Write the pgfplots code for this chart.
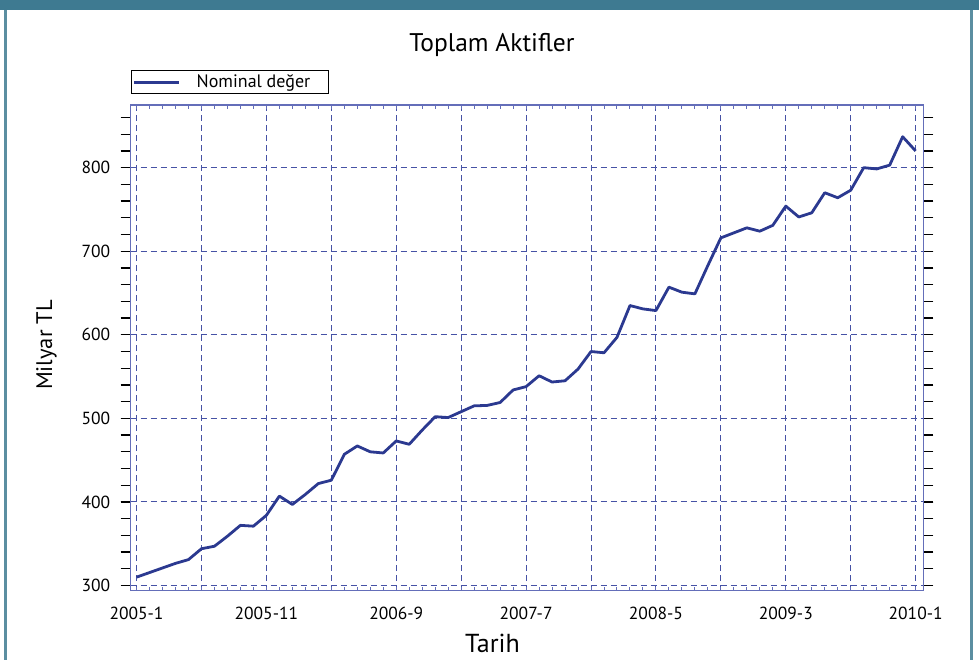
\documentclass[border=0pt]{standalone}
\usepackage{pgfplots}
\pgfplotsset{compat=1.18}
\usepackage{fontspec}
\setmainfont{PT Sans}
\definecolor{teal1}{RGB}{62,122,145}
\definecolor{navy}{RGB}{43,57,144}
\definecolor{gridc}{RGB}{70,82,165}
\definecolor{axc}{RGB}{100,110,185}
\pgfplotstableread{
m v
0 310
1 315.5
2 321
3 326.5
4 331
5 344
6 347
7 359
8 372
9 371
10 384
11 407
12 397
13 409
14 422
15 426
16 457
17 467
18 460
19 458.6
20 473
21 469
22 486
23 502
24 501
25 508
26 515
27 515.5
28 519
29 534
30 538
31 551
32 543.5
33 545
34 559
35 580
36 578.5
37 597
38 635
39 631
40 629
41 657
42 651
43 649
44 683
45 716
46 722
47 728
48 724
49 731
50 754
51 741
52 746
53 770
54 764
55 773
56 800
57 798.5
58 803
59 837
60 820
}\datatable
\begin{document}
\begin{tikzpicture}[x=1pt,y=1pt]
\useasboundingbox (0,0) rectangle (979,660);
\fill[teal1] (0,650) rectangle (979,660);
\fill[teal1!85!white] (4,0) rectangle (6.7,650);
\fill[teal1!85!white] (970,0) rectangle (972.5,650);
\begin{axis}[
  at={(130.7pt,69.3pt)}, anchor=south west, scale only axis,
  width=792.6pt, height=485.7pt,
  xmin=-0.45, xmax=60.59, ymin=293.8, ymax=875,
  axis line style={axc, line width=1.2pt},
  tick align=outside, major tick length=10pt, minor tick length=10pt,
  ytick={300,400,...,800}, minor ytick={320,340,...,860},
  ytick pos=both, yticklabel pos=left,
  tick style={black, line width=1.2pt},
  xtick={0,5,...,60},
  xticklabels={2005-1,,2005-11,,2006-9,,2007-7,,2008-5,,2009-3,,2010-1},
  xtick style={draw=none},
  grid=major,
  major grid style={gridc, dash pattern=on 6pt off 4pt, line width=1pt},
  ticklabel style={font=\fontsize{17.5}{17.5}\selectfont},
  yticklabel style={xshift=-7pt},
  xticklabel style={yshift=-3pt},
  /pgf/number format/assume math mode=true,
  legend style={at={(0,1)}, anchor=south west, yshift=10.5pt, draw=black, line width=1pt,
    font=\fontsize{18}{18}\selectfont, inner xsep=2pt, inner ysep=1pt,
    nodes={inner xsep=16pt, inner ysep=3.5pt}},
  legend cell align=left,
  legend image code/.code={\draw[#1, line width=2.5pt] (0pt,0pt) -- (45pt,0pt);},
]
\addplot[navy, line width=2.8pt, line join=round] table[x=m, y=v] {\datatable};
\addlegendentry{Nominal değer}
\end{axis}
\begin{axis}[
  at={(130.7pt,69.3pt)}, anchor=south west, scale only axis,
  width=792.6pt, height=485.7pt,
  xmin=-0.45, xmax=60.59, ymin=293.8, ymax=875,
  axis line style={draw=none},
  xtick={0,1,...,60}, xticklabels={}, ytick=\empty,
  tick align=inside, major tick length=4pt, xtick pos=both,
  xtick style={axc, line width=1pt},
]
\end{axis}
\node[font=\fontsize{25.5}{25.5}\selectfont, anchor=base] at (492,608.3) {Toplam Aktifler};
\node[font=\fontsize{26}{26}\selectfont, anchor=base] at (492.5,7) {Tarih};
\node[font=\fontsize{22.5}{22.5}\selectfont, anchor=base, rotate=90] at (52,315) {Milyar TL};
\end{tikzpicture}
\end{document}
